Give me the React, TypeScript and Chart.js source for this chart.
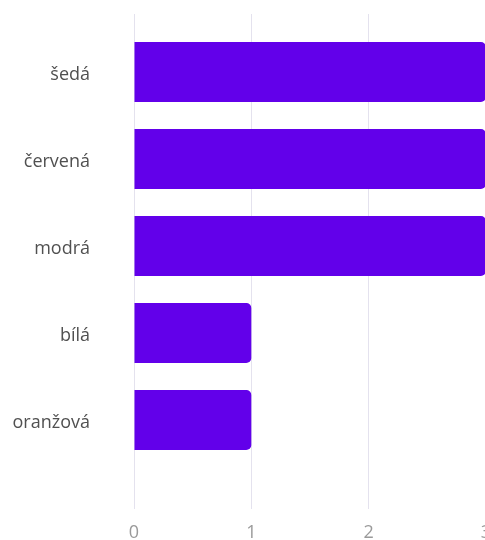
import React, { useEffect, useRef } from "react";
import { Chart, registerables } from "chart.js";

Chart.register(...registerables);

const categories = ["šedá", "červená", "modrá", "bílá", "oranžová"];
const counts = [3, 3, 3, 1, 1];
const xTicks = [0, 1, 2, 3];

const W = 504;

export default function App() {
  const ref = useRef<HTMLCanvasElement>(null);
  useEffect(() => {
    if (!ref.current) return;
    const font = { family: "'Open Sans', 'Noto Sans', sans-serif", size: 18 };
    const chart = new Chart(ref.current, {
      type: "bar",
      data: {
        labels: categories,
        datasets: [
          {
            data: counts,
            backgroundColor: "#6200ea",
            borderRadius: 5,
            borderSkipped: "start",
            barPercentage: 0.69,
            categoryPercentage: 1,
          },
        ],
      },
      options: {
        indexAxis: "y",
        animation: false,
        responsive: false,
        maintainAspectRatio: false,
        layout: { padding: { top: 14, bottom: 0, left: 0, right: 0 } },
        plugins: { legend: { display: false }, tooltip: { enabled: false } },
        scales: {
          x: {
            position: "bottom",
            min: 0,
            max: 3,
            afterBuildTicks: (s: any) => {
              s.ticks = xTicks.map((v) => ({ value: v }));
            },
            afterFit: (s: any) => {
              s.height = 76.5;
            },
            grid: { color: "#e4e2ee", lineWidth: 1, tickLength: 45.5 },
            border: { display: false },
            ticks: { color: "#9a9a9a", font, padding: 13, maxRotation: 0 },
          },
          x2: {
            type: "linear",
            position: "top",
            min: 0,
            max: 3,
            afterBuildTicks: (s: any) => {
              s.ticks = xTicks.map((v) => ({ value: v }));
            },
            afterFit: (s: any) => {
              s.height = 14.5;
              s.paddingLeft = 0;
              s.paddingRight = 0;
            },
            grid: { color: "#e4e2ee", lineWidth: 1, tickLength: 14.5, drawOnChartArea: false },
            border: { display: false },
            ticks: { display: false },
          },
          y: {
            offset: true,
            grid: { display: false, drawTicks: false },
            border: { display: false },
            afterFit: (s: any) => {
              s.width = 134;
              s.paddingTop = 0;
              s.paddingBottom = 0;
            },
            ticks: { color: "#505050", font, padding: 44, labelOffset: 3 },
          },
        },
      },
    });
    return () => chart.destroy();
  }, []);
  return (
    <div style={{ position: "fixed", left: 0, top: 0, width: W, height: 540, background: "#fff" }}>
      <canvas ref={ref} width={W} height={540} style={{ display: "block" }} />
    </div>
  );
}
